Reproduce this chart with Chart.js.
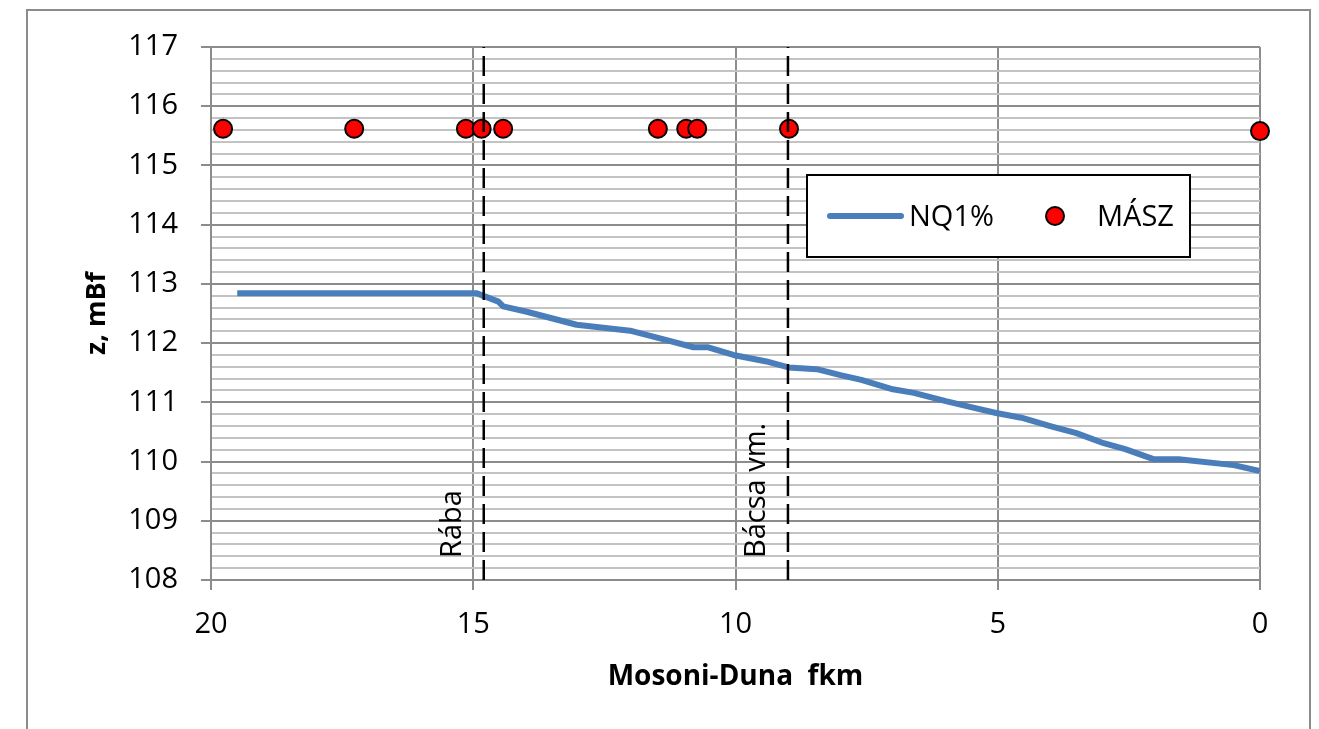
<!DOCTYPE html>
<html>
<head>
<meta charset="utf-8">
<script src="https://cdn.jsdelivr.net/npm/chart.js@4"></script>
<style>
  html, body { margin: 0; padding: 0; background: #fff; }
  canvas { display: block; }
</style>
</head>
<body>
<canvas id="chart" width="1319" height="729"></canvas>
<script>
// NQ1% vízszint (fkm, mBf)
const nqKm = [19.5, 15.0, 14.93, 14.52, 14.43, 13.98, 13.03, 12.01, 11.44, 10.8, 10.52, 10.04, 9.41, 8.99, 8.45, 8.0, 7.6, 7.0, 6.6, 5.99, 5.51, 5.03, 4.55, 4.0, 3.5, 2.98, 2.57, 2.03, 1.55, 0.5, 0];
const nqZ = [112.84, 112.84, 112.84, 112.70, 112.62, 112.53, 112.31, 112.21, 112.08, 111.93, 111.93, 111.80, 111.69, 111.59, 111.56, 111.46, 111.38, 111.22, 111.16, 111.02, 110.92, 110.82, 110.74, 110.6, 110.48, 110.31, 110.21, 110.04, 110.04, 109.94, 109.84];

// MÁSZ pontok
const maszKm = [19.77, 17.27, 15.14, 14.84, 14.43, 11.48, 10.94, 10.73, 8.98, 0];
const maszZ = [115.62, 115.62, 115.62, 115.62, 115.62, 115.62, 115.62, 115.62, 115.62, 115.58];

// szaggatott jelölő vonalak
const markKm = [14.8, 9.0];
const markLabels = ['Rába', 'Bácsa vm.'];

const xMin = 0, xMax = 20, xStep = 5;
const yMin = 108, yMax = 117, yMinorStep = 0.2;

const FONT = "'Open Sans', sans-serif";
const isMajor = v => Math.abs(v - Math.round(v)) < 1e-6;

const markDatasets = markKm.map(km => ({
    label: '',
    data: [{x: km, y: yMin}, {x: km, y: yMax}],
    borderColor: '#000',
    borderWidth: 2.5,
    borderDash: [20, 8],
    pointRadius: 0,
    fill: false
}));

// felirat a jelölő vonalak mellé, elforgatva
const markLabelPlugin = {
    id: 'markLabels',
    afterDraw(chart) {
        const ctx = chart.ctx;
        const xs = chart.scales.x;
        const area = chart.chartArea;
        ctx.save();
        ctx.font = '29px ' + FONT;
        ctx.fillStyle = '#000';
        ctx.textAlign = 'left';
        ctx.textBaseline = 'alphabetic';
        markKm.forEach((km, i) => {
            const px = xs.getPixelForValue(km);
            ctx.save();
            ctx.translate(px - 23, area.bottom - 22);
            ctx.rotate(-Math.PI / 2);
            ctx.fillText(markLabels[i], 0, 0);
            ctx.restore();
        });
        ctx.restore();
    }
};

// jelmagyarázat doboz + külső keret
const boxPlugin = {
    id: 'boxes',
    afterDraw(chart) {
        const ctx = chart.ctx;
        ctx.save();
        // külső keret
        ctx.strokeStyle = '#8c8c8c';
        ctx.lineWidth = 2;
        ctx.strokeRect(27, 10, 1283, 740);

        // legend
        ctx.fillStyle = '#fff';
        ctx.fillRect(807, 175, 383, 82);
        ctx.strokeStyle = '#000';
        ctx.lineWidth = 2;
        ctx.strokeRect(807, 175, 383, 82);

        ctx.strokeStyle = '#4a7ebb';
        ctx.lineWidth = 6;
        ctx.lineCap = 'round';
        ctx.beginPath();
        ctx.moveTo(830, 216);
        ctx.lineTo(901, 216);
        ctx.stroke();

        ctx.beginPath();
        ctx.arc(1055, 216, 9, 0, Math.PI * 2);
        ctx.fillStyle = '#ff0000';
        ctx.fill();
        ctx.lineWidth = 2;
        ctx.strokeStyle = '#000';
        ctx.stroke();

        ctx.fillStyle = '#000';
        ctx.font = '29px ' + FONT;
        ctx.textBaseline = 'middle';
        ctx.textAlign = 'left';
        ctx.fillText('NQ1%', 909, 218);
        ctx.fillText('MÁSZ', 1097, 218);
        ctx.restore();
    }
};

new Chart(document.getElementById('chart').getContext('2d'), {
    type: 'line',
    data: {
        datasets: [
            ...markDatasets,
            {
                label: 'MÁSZ',
                data: maszKm.map((k, i) => ({x: k, y: maszZ[i]})),
                showLine: false,
                pointRadius: 9,
                pointBackgroundColor: '#ff0000',
                pointBorderColor: '#000',
                pointBorderWidth: 2,
                clip: false
            },
            {
                label: 'NQ1%',
                data: nqKm.map((k, i) => ({x: k, y: nqZ[i]})),
                borderColor: '#4a7ebb',
                borderWidth: 6,
                borderJoinStyle: 'round',
                borderCapStyle: 'butt',
                pointRadius: 0,
                tension: 0,
                fill: false
            }
        ]
    },
    options: {
        responsive: false,
        devicePixelRatio: 1,
        animation: false,
        layout: { padding: { left: 0, top: 47, right: 59, bottom: 0 } },
        plugins: {
            legend: { display: false },
            tooltip: { enabled: false }
        },
        scales: {
            x: {
                type: 'linear',
                min: xMin,
                max: xMax,
                reverse: true,
                afterFit: s => { s.height = 149; },
                ticks: {
                    stepSize: xStep,
                    color: '#000',
                    font: { family: FONT, size: 29 },
                    padding: 17,
                    maxRotation: 0
                },
                grid: {
                    color: '#8c8c8c',
                    lineWidth: 2,
                    tickLength: 10,
                    tickColor: '#8c8c8c'
                },
                border: { color: '#8c8c8c', width: 2 },
                title: {
                    display: true,
                    text: 'Mosoni-Duna  fkm',
                    color: '#000',
                    font: { family: FONT, size: 28, weight: 'bold' },
                    padding: { top: 0, bottom: 35 }
                }
            },
            y: {
                type: 'linear',
                min: yMin,
                max: yMax,
                afterFit: s => { s.width = 211; },
                ticks: {
                    stepSize: yMinorStep,
                    autoSkip: false,
                    maxTicksLimit: 100,
                    color: '#000',
                    font: { family: FONT, size: 29 },
                    padding: 23,
                    callback: v => isMajor(v) ? String(Math.round(v)) : ''
                },
                grid: {
                    color: c => isMajor(c.tick.value) ? '#8c8c8c' : '#c3c3c3',
                    lineWidth: 2,
                    tickLength: 10,
                    tickColor: c => isMajor(c.tick.value) ? '#8c8c8c' : 'rgba(0,0,0,0)'
                },
                border: { color: '#8c8c8c', width: 2 },
                title: {
                    display: true,
                    text: 'z, mBf',
                    color: '#000',
                    font: { family: FONT, size: 27, weight: 'bold' },
                    padding: { top: 81, bottom: 0 }
                }
            }
        }
    },
    plugins: [markLabelPlugin, boxPlugin]
});
</script>
</body>
</html>
